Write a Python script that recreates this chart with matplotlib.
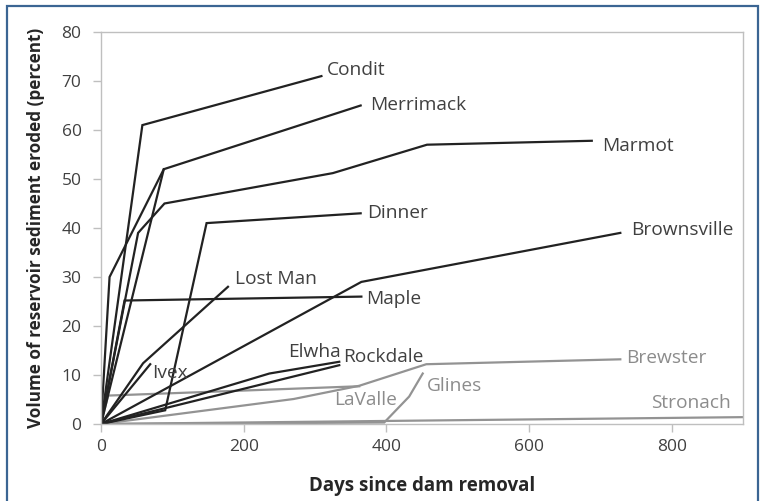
import matplotlib
matplotlib.use("Agg")
import matplotlib.pyplot as plt
from matplotlib.patches import Rectangle

# ---- data (days since removal, percent eroded) ----
condit_x = [0, 58, 309]
condit_y = [0, 61, 71]
merrimack_x = [0, 12, 88, 364]
merrimack_y = [0, 30, 52, 65]
unlabeled_x = [0, 88]
unlabeled_y = [0, 52]
marmot_x = [0, 52, 89, 325, 457, 688]
marmot_y = [0, 39, 45, 51.2, 57, 57.8]
dinner_x = [0, 90, 148, 364]
dinner_y = [0, 2.8, 41, 43]
brownsville_x = [0, 365, 728]
brownsville_y = [0, 29, 39]
lostman_x = [0, 59, 178]
lostman_y = [0, 12.4, 28]
maple_x = [0, 33, 365]
maple_y = [0, 25.2, 26]
ivex_x = [0, 69]
ivex_y = [0, 12.2]
elwha_x = [0, 236, 334]
elwha_y = [0, 10.3, 12.7]
rockdale_x = [0, 334]
rockdale_y = [0, 12]
lavalle_x = [0, 10, 362]
lavalle_y = [0, 5.8, 7.7]
brewster_x = [0, 270, 362, 456, 728]
brewster_y = [0, 5.1, 7.8, 12.2, 13.2]
glines_x = [0, 397, 432, 451]
glines_y = [0, 0.3, 5.6, 10.3]
stronach_x = [0, 900]
stronach_y = [0, 1.4]

x_ticks = [0, 200, 400, 600, 800]
y_ticks = [0, 10, 20, 30, 40, 50, 60, 70, 80]

dark_series = [
    ("Condit", condit_x, condit_y),
    ("Merrimack", merrimack_x, merrimack_y),
    ("", unlabeled_x, unlabeled_y),
    ("Marmot", marmot_x, marmot_y),
    ("Dinner", dinner_x, dinner_y),
    ("Brownsville", brownsville_x, brownsville_y),
    ("Lost Man", lostman_x, lostman_y),
    ("Maple", maple_x, maple_y),
    ("Ivex", ivex_x, ivex_y),
    ("Elwha", elwha_x, elwha_y),
    ("Rockdale", rockdale_x, rockdale_y),
]
gray_series = [
    ("LaValle", lavalle_x, lavalle_y),
    ("Brewster", brewster_x, brewster_y),
    ("Glines", glines_x, glines_y),
    ("Stronach", stronach_x, stronach_y),
]

# label anchor positions (layout, data coords: left edge, vertical centre)
label_pos = {
    "Condit": (317, 72.2), "Merrimack": (377, 65.1), "Marmot": (702, 56.8),
    "Dinner": (373, 43.1), "Brownsville": (743, 39.6), "Lost Man": (188, 29.6),
    "Maple": (371, 25.5), "Ivex": (71, 10.5), "Elwha": (262, 14.7),
    "Rockdale": (339, 13.7), "Brewster": (736, 13.5), "Glines": (457, 7.7),
    "LaValle": (327, 4.8), "Stronach": (771, 4.2),
}

FONT = ["Open Sans", "DejaVu Sans"]
plt.rcParams["font.family"] = FONT

fig = plt.figure(figsize=(7.62, 5.01), dpi=100)
ax = fig.add_axes([101 / 762, 1 - 424 / 501, (743 - 101) / 762, (424 - 32) / 501])

dark_c, gray_c = "#222222", "#939393"
for name, xs, ys in gray_series:
    ax.plot(xs, ys, color=gray_c, lw=1.6, solid_joinstyle="miter")
for name, xs, ys in dark_series:
    ax.plot(xs, ys, color=dark_c, lw=1.6, solid_joinstyle="miter")

LABEL_FS = 13.8
for name, _, _ in dark_series:
    if name:
        px, py = label_pos[name]
        ax.text(px, py, name, color="#404040", fontsize=LABEL_FS, ha="left", va="center")
for name, _, _ in gray_series:
    px, py = label_pos[name]
    ax.text(px, py, name, color="#8c8c8c", fontsize=LABEL_FS, ha="left", va="center")

ax.set_xlim(0, 900)
ax.set_ylim(0, 80)
ax.set_xticks(x_ticks)
ax.set_yticks(y_ticks)
ax.tick_params(axis="both", colors="#bfbfbf", labelcolor="#404040", labelsize=12.5,
               length=6, width=1)
ax.tick_params(axis="y", pad=8)
ax.tick_params(axis="x", pad=5)
for s in ax.spines.values():
    s.set_color("#bfbfbf")
    s.set_linewidth(1)

ax.set_xlabel("Days since dam removal", fontsize=13.5, fontweight="bold",
              color="#262626", labelpad=15)
ax.set_ylabel("Volume of reservoir sediment eroded (percent)", fontsize=12.3,
              fontweight="bold", color="#262626", labelpad=12)

fig.patches.append(Rectangle((7 / 762, -0.02), (758 - 7) / 762, 1.02 - 6 / 501,
                             transform=fig.transFigure, fill=False,
                             edgecolor="#3b6593", lw=1.6, clip_on=False))

fig.savefig("out.png", dpi=100)
